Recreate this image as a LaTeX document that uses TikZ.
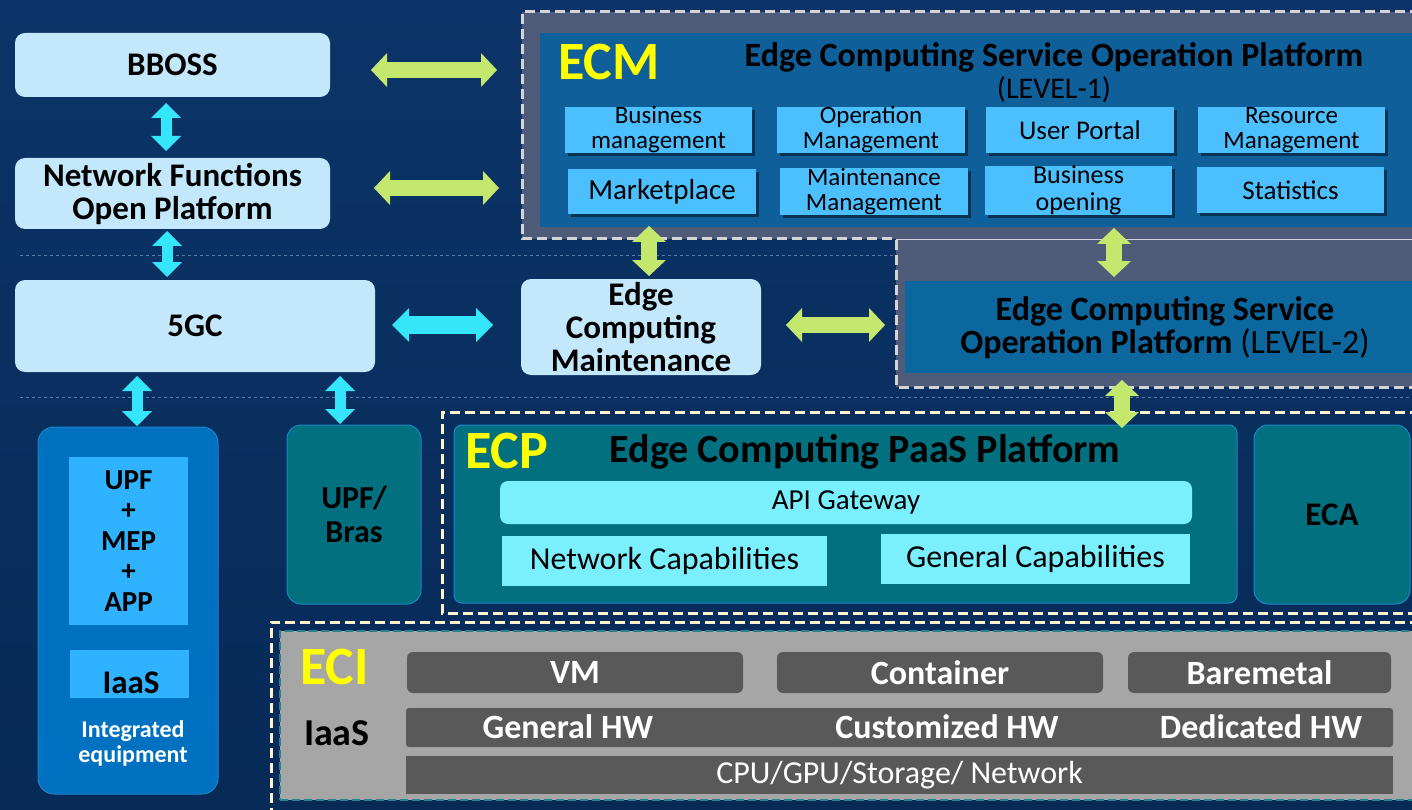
\documentclass[tikz,border=0pt]{standalone}
\usepackage{fontspec}
\setmainfont{Carlito}
\usetikzlibrary{arrows.meta,calc,shadows}
\definecolor{bgtop}{HTML}{0C3468}
\definecolor{bgbot}{HTML}{072A57}
\definecolor{lightbox}{HTML}{C4E8FB}
\definecolor{cyanarr}{HTML}{35E5F9}
\definecolor{greenarr}{HTML}{C4E86E}
\definecolor{slate}{HTML}{4E5C7A}
\definecolor{ecmblue}{HTML}{0E5F9A}
\definecolor{subblue}{HTML}{4CBFFF}
\definecolor{tealp}{HTML}{02707F}
\definecolor{tealborder}{HTML}{1B86C8}
\definecolor{apicyan}{HTML}{7AF0FF}
\definecolor{intblue}{HTML}{0071C1}
\definecolor{intinner}{HTML}{2FB2FF}
\definecolor{grayp}{HTML}{A6A6A6}
\definecolor{darkg}{HTML}{595959}
\definecolor{ylw}{HTML}{FFFF00}
\definecolor{dashgray}{HTML}{D4D4D4}
\definecolor{cream}{HTML}{FFF2CC}
\definecolor{tealdash}{HTML}{26838F}
\definecolor{guide}{HTML}{5A7BA3}
\newcommand{\fs}[2]{\fontsize{#1}{#2}\selectfont}
\begin{document}
\begin{tikzpicture}[x=1pt,y=-1pt,
  box/.style={inner sep=0pt, outer sep=0pt, align=center, text=black},
  lbox/.style={box, fill=lightbox, rounded corners=10pt, font=\bfseries\fs{33}{33}},
  sub/.style={box, fill=subblue, font=\fs{25}{25},
    drop shadow={shadow xshift=3pt, shadow yshift=-3pt, opacity=0.45, fill=black}},
  tealbox/.style={box, fill=tealp, draw=tealborder, line width=1pt},
  capbox/.style={box, fill=apicyan, font=\fs{32}{32}},
  graybar/.style={box, fill=darkg, rounded corners=6pt, text=white, font=\bfseries\fs{34}{34}},
  lbl/.style={inner sep=0pt, outer sep=0pt, align=center},
  big/.style={lbl, anchor=west, text=ylw, font=\bfseries\fs{54}{54}},
  dbl/.style n args={4}{draw=#1, line width=#2, line cap=butt,
    arrows={Triangle[length=#4,width=#3,line width=0pt]-Triangle[length=#4,width=#3,line width=0pt]}},
  cyv/.style={dbl={cyanarr}{11pt}{30pt}{15pt}},
  cyh/.style={dbl={cyanarr}{18pt}{34pt}{17pt}},
  grn/.style={dbl={greenarr}{16pt}{34pt}{16pt}},
  grayline/.style={draw=dashgray, line width=3pt, dash pattern=on 10pt off 5pt},
  creamline/.style={draw=cream, line width=3pt, dash pattern=on 10pt off 5pt}
]
\useasboundingbox (0,0) rectangle (1412,810);
\shade[top color=bgtop, bottom color=bgbot] (0,0) rectangle (1412,810);
\draw[guide, line width=0.6pt, dash pattern=on 3pt off 3pt] (20,255) -- (1412,255);
\draw[guide, line width=0.6pt, dash pattern=on 3pt off 3pt] (20,397) -- (1412,397);

% ECM outer region
\fill[slate] (522,12) rectangle (1412,239);
\fill[slate] (896,227) rectangle (1412,387);
\draw[white!75!slate, line width=0.8pt] (896,239) -- (1412,239);
\draw[grayline] (1420,12) -- (522,12) -- (522,239) -- (896,239) -- (896,387) -- (1420,387);

% ECP and ECI outer regions
\draw[creamline] (1420,412) -- (442,412) -- (442,613) -- (1420,613);
\draw[creamline] (1420,622) -- (271,622) -- (271,815);

% left column
\node[lbox, minimum width=315pt, minimum height=64pt] (bboss) at (172.5,65) {BBOSS};
\node[lbox, minimum width=315pt, minimum height=71pt] (nfop) at (172.5,193.5) {Network Functions\\Open Platform};
\node[lbox, minimum width=360pt, minimum height=92pt] (fivegc) at (195,326) {5GC};

% ECM panel
\node[box, fill=ecmblue, minimum width=875pt, minimum height=194pt] (ecm) at (977.5,130) {};
\node[big] (ecmlbl) at (558,62) {ECM};
\node[lbl, anchor=base, font=\bfseries\fs{34}{34}] (ecmtitle) at (1054,67) {Edge Computing Service Operation Platform};
\node[lbl, anchor=base, font=\fs{30}{30}] (lev1) at (1054,99) {(LEVEL-1)};

\node[sub, minimum width=187pt, minimum height=46pt] (bm) at (658.5,130) {Business\\management};
\node[sub, minimum width=188pt, minimum height=46pt] (om) at (871,130) {Operation\\Management};
\node[sub, minimum width=188pt, minimum height=46pt, font=\fs{27}{27}] (up) at (1080,130) {User Portal};
\node[sub, minimum width=187pt, minimum height=46pt] (rm) at (1291.5,130) {Resource\\Management};
\node[sub, minimum width=188pt, minimum height=45pt, font=\fs{29}{29}] (mp) at (662,191.5) {Marketplace};
\node[sub, minimum width=188pt, minimum height=45pt] (mm) at (874,191.5) {Maintenance\\Management};
\node[sub, minimum width=187pt, minimum height=47pt, font=\fs{26}{27}] (bo) at (1078.5,190.5) {Business\\opening};
\node[sub, minimum width=187pt, minimum height=46pt, font=\fs{27}{27}] (st) at (1290.5,190.5) {Statistics};

% middle row
\node[lbox, minimum width=240pt, minimum height=96pt, font=\bfseries\fs{33}{33}] (ecmaint) at (641,327) {Edge\\Computing\\Maintenance};
\node[box, fill=ecmblue!95!cyan, minimum width=510pt, minimum height=92pt] (l2) at (1160,327) {};
\node[lbl, font=\bfseries\fs{34}{33}] (l2txt) at (1165,328) {Edge Computing Service\\Operation Platform {\mdseries (LEVEL-2)}};

% ECP
\node[tealbox, rounded corners=8pt, minimum width=783pt, minimum height=178pt] (ecp) at (845.5,514) {};
\node[big] (ecplbl) at (465,451) {ECP};
\node[lbl, font=\bfseries\fs{40}{40}] (ecptitle) at (865,452) {Edge Computing PaaS Platform};
\node[capbox, rounded corners=8pt, minimum width=692pt, minimum height=43pt, font=\fs{29}{29}] (api) at (846,502.5) {API Gateway};
\node[capbox, minimum width=325pt, minimum height=50pt] (netcap) at (664.5,561) {Network Capabilities};
\node[capbox, minimum width=309pt, minimum height=50pt] (gencap) at (1035.5,559) {General Capabilities};
\node[tealbox, rounded corners=14pt, minimum width=156pt, minimum height=179pt, font=\bfseries\fs{33}{33}] (eca) at (1332,514.5) {ECA};
\node[tealbox, rounded corners=14pt, minimum width=134pt, minimum height=179pt, font=\bfseries\fs{32}{34}] (upfbras) at (354,514.5) {UPF/\\Bras};

% Integrated equipment
\node[box, fill=intblue, draw=tealborder, line width=1pt, rounded corners=16pt, minimum width=180pt, minimum height=367pt] (integ) at (128,610.5) {};
\node[box, fill=intinner, minimum width=119pt, minimum height=168pt, font=\bfseries\fs{29}{30.5}] (upfmep) at (128.5,541) {UPF\\+\\MEP\\+\\APP};
\node[box, fill=intinner, minimum width=119pt, minimum height=48pt] (iaasbox) at (129.5,674) {};
\node[lbl, font=\bfseries\fs{33}{33}] (iaastxt) at (131,683) {IaaS};
\node[lbl, text=white, font=\bfseries\fs{24}{25}] (integlbl) at (133,743) {Integrated\\equipment};

% ECI
\node[box, fill=grayp, draw=tealdash, line width=2pt, dash pattern=on 8pt off 4pt, minimum width=1140pt, minimum height=169pt] (eci) at (850,715.5) {};
\node[big] (ecilbl) at (300,667) {ECI};
\node[lbl, anchor=west, font=\bfseries\fs{38}{38}] (eciiaas) at (304,733) {IaaS};
\node[graybar, minimum width=336pt, minimum height=41pt] (vm) at (575,672.5) {VM};
\node[graybar, minimum width=326pt, minimum height=41pt] (container) at (940,672.5) {Container};
\node[graybar, minimum width=263pt, minimum height=41pt] (baremetal) at (1259.5,672.5) {Baremetal};
\node[graybar, rounded corners=3pt, minimum width=987pt, minimum height=39pt] (hw) at (899.5,727.5) {};
\node[lbl, text=white, font=\bfseries\fs{34}{34}] (genhw) at (568,727) {General HW};
\node[lbl, text=white, font=\bfseries\fs{34}{34}] (cushw) at (947,727) {Customized HW};
\node[lbl, text=white, font=\bfseries\fs{34}{34}] (dedhw) at (1261,727) {Dedicated HW};
\node[graybar, rounded corners=0pt, minimum width=987pt, minimum height=38pt, font=\fs{32}{32}] (cpu) at (899.5,775) {CPU/GPU/Storage/ Network};

% cyan arrows
\draw[cyv] ($(bboss.south)+(-6.5,6)$) -- ($(nfop.north)+(-6.5,-7)$);
\draw[cyv] ($(nfop.south)+(-5.5,2)$) -- ($(fivegc.north)+(-28,-3)$);
\draw[cyv] ($(fivegc.south)+(-58,4)$) -- ($(integ.north)+(9,-1)$);
\draw[cyv] ($(fivegc.south)+(145,4)$) -- ($(upfbras.north)+(-14,-1)$);
\draw[cyh] ($(fivegc.east)+(17,-1)$) -- ($(ecmaint.west)+(-28,-2)$);
% green arrows
\draw[grn] ($(bboss.east)+(41,5)$) -- ($(ecm.west)+(-43,-60)$);
\draw[grn] ($(nfop.east)+(44,-5.5)$) -- ($(ecm.west)+(-41,58)$);
\draw[grn] ($(ecm.south)+(-328.5,-1)$) -- ($(ecmaint.north)+(8,-3)$);
\draw[grn] ($(ecm.south)+(136.5,1)$) -- ($(l2.north)+(-46,-4)$);
\draw[grn] ($(ecmaint.east)+(25,-2)$) -- ($(l2.west)+(-20,-2)$);
\draw[grn] ($(l2.south)+(-38,7)$) -- ($(ecp.north)+(276.5,3)$);
\end{tikzpicture}
\end{document}
